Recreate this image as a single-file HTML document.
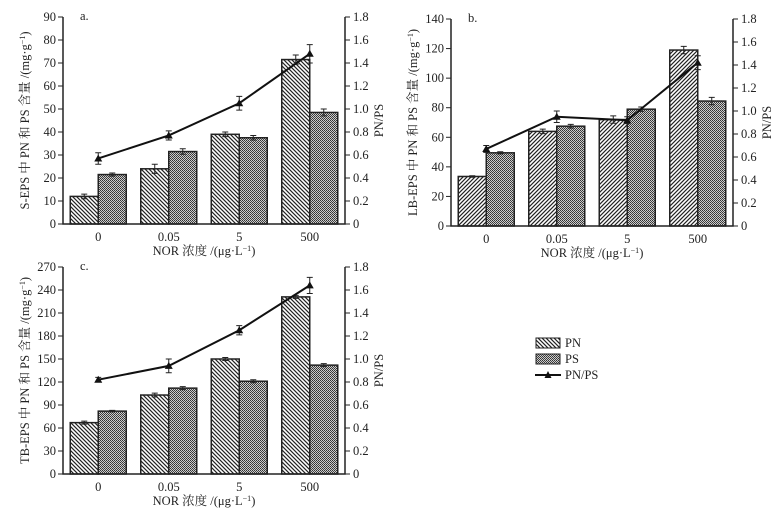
<!DOCTYPE html>
<html><head><meta charset="utf-8"><style>
body{margin:0;background:#fff}
svg text{font-family:"Liberation Serif","Noto Serif CJK SC",serif;font-size:12.5px;fill:#222}
</style></head><body>
<svg id="s" width="778" height="513" xmlns="http://www.w3.org/2000/svg">
<defs>
<pattern id="hb" width="4" height="4" patternUnits="userSpaceOnUse"><rect width="4" height="4" fill="#fff"/><path d="M-1,-1 L5,5 M-1,3 L1,5 M3,-1 L5,1" stroke="#222" stroke-width="1.2"/></pattern>
<pattern id="hf" width="4" height="4" patternUnits="userSpaceOnUse"><rect width="4" height="4" fill="#fff"/><path d="M-1,5 L5,-1 M-1,1 L1,-1 M3,5 L5,3" stroke="#222" stroke-width="1.2"/></pattern>
<pattern id="ck" width="2" height="2" patternUnits="userSpaceOnUse"><rect width="2" height="2" fill="#ccc"/><rect width="1" height="1" fill="#333"/><rect x="1" y="1" width="1" height="1" fill="#444"/></pattern>
</defs>
<g>
<rect x="536" y="338" width="24" height="10" fill="url(#hb)" stroke="#222"/>
<text x="565" y="347">PN</text>
<rect x="536" y="354" width="24" height="10" fill="url(#ck)" stroke="#222"/>
<text x="565" y="363">PS</text>
<line x1="535" y1="375" x2="561" y2="375" stroke="#111" stroke-width="2"/>
<path d="M544.5,378 L548,371 L551.5,378Z" fill="#111"/>
<text x="565" y="379">PN/PS</text>
</g>
</svg>
<script>
const categories=["0","0.05","5","500"];
const aPN=[12,24,39,71.5], aPNerr=[1,2,1,2];
const aPS=[21.5,31.5,37.5,48.5], aPSerr=[0.7,1.2,1,1.5];
const aRatio=[0.57,0.77,1.05,1.48], aRatioErr=[0.05,0.04,0.06,0.08];
const aTicks=[0,10,20,30,40,50,60,70,80,90];
const bPN=[33.5,64,72,119], bPNerr=[0.5,1.5,2.5,2.5];
const bPS=[49.5,67.5,79,84.5], bPSerr=[0.7,1.2,1.5,2.5];
const bRatio=[0.67,0.95,0.92,1.42], bRatioErr=[0.03,0.05,0.03,0.06];
const bTicks=[0,20,40,60,80,100,120,140];
const cPN=[67,103,150,231], cPNerr=[2,2.5,2,2];
const cPS=[82,112,121,142], cPSerr=[1,2,2,2];
const cRatio=[0.82,0.94,1.25,1.64], cRatioErr=[0.02,0.06,0.04,0.07];
const cTicks=[0,30,60,90,120,150,180,210,240,270];
const rTicks=[0,0.2,0.4,0.6,0.8,1.0,1.2,1.4,1.6,1.8];
const rLabels=["0","0.2","0.4","0.6","0.8","1.0","1.2","1.4","1.6","1.8"];
const NS="http://www.w3.org/2000/svg", svg=document.getElementById('s');
function mk(p,t,a,txt){const e=document.createElementNS(NS,t);for(const k in a)e.setAttribute(k,a[k]);if(txt!=null)e.textContent=txt;p.appendChild(e);return e;}
function chart(id,L,R,T,B,ticks,PN,PNe,PS,PSe,RA,RAe,label,ytitle,pnFill){
  const g=mk(svg,'g',{});
  
  
  const ymax=ticks[ticks.length-1];
  const y=v=>B-(v/ymax)*(B-T), yr=v=>B-(v/1.8)*(B-T);
  const step=(R-L)/categories.length, cx=i=>L+step/2+i*step, bw=28;
  function eb(x,v,e,yf,name){const l=mk(g,'path',{d:`M${x},${yf(v-e)}V${yf(v+e)}M${x-3},${yf(v-e)}H${x+3}M${x-3},${yf(v+e)}H${x+3}`,stroke:'#222','stroke-width':1,fill:'none'});
    
    }
  categories.forEach((c,i)=>{
    const b1=mk(g,'rect',{x:cx(i)-bw,y:y(PN[i]),width:bw,height:B-y(PN[i]),fill:pnFill,stroke:'#222','stroke-width':1.5});
    
    
    const b2=mk(g,'rect',{x:cx(i),y:y(PS[i]),width:bw,height:B-y(PS[i]),fill:'url(#ck)',stroke:'#222','stroke-width':1.5});
    
    
    eb(cx(i)-bw/2,PN[i],PNe[i],y,'error-bar-pn');
    eb(cx(i)+bw/2,PS[i],PSe[i],y,'error-bar-ps');
    const t=mk(g,'text',{x:cx(i),y:B+17,'text-anchor':'middle'},c);
    
    
  });
  const ln=mk(g,'polyline',{points:RA.map((v,i)=>cx(i)+','+yr(v)).join(' '),fill:'none',stroke:'#111','stroke-width':2});
  
  
  RA.forEach((v,i)=>{eb(cx(i),v,RAe[i],yr,'error-bar-ratio');
    const m=mk(g,'path',{d:`M${cx(i)-4},${yr(v)+3} L${cx(i)},${yr(v)-4} L${cx(i)+4},${yr(v)+3}Z`,fill:'#111'});
    
    });
  const ax=mk(g,'path',{d:`M${L},${T}V${B}H${R}V${T}`,fill:'none',stroke:'#222','stroke-width':1.5});
  
  
  ticks.forEach(v=>{mk(g,'line',{x1:L-5,x2:L,y1:y(v),y2:y(v),stroke:'#222'});
    const t=mk(g,'text',{x:L-7,y:y(v)+4,'text-anchor':'end'},String(v));
    
    });
  rTicks.forEach((v,k)=>{mk(g,'line',{x1:R,x2:R+5,y1:yr(v),y2:yr(v),stroke:'#222'});
    const t=mk(g,'text',{x:R+8,y:yr(v)+4},rLabels[k]);
    
    });
  const pl=mk(g,'text',{x:L+17,y:T+3},label);
  
  
  const xt=mk(g,'text',{x:(L+R)/2,y:B+31,'text-anchor':'middle'});
  xt.innerHTML='NOR 浓度 /(μg·L<tspan dy="-4" font-size="8">−1</tspan><tspan dy="4">)</tspan>';
  
  
  const yt=mk(g,'text',{transform:`translate(${L-34},${(T+B)/2}) rotate(-90)`,'text-anchor':'middle'});
  yt.innerHTML=ytitle+' 中 PN 和 PS 含量 /(mg·g<tspan dy="-4" font-size="8">−1</tspan><tspan dy="4">)</tspan>';
  
  
  const y2=mk(g,'text',{transform:`translate(${R+38},${(T+B)/2}) rotate(-90)`,'text-anchor':'middle'},'PN/PS');
  
  
}
chart('a',63,345,17,224,aTicks,aPN,aPNerr,aPS,aPSerr,aRatio,aRatioErr,'a.','S-EPS','url(#hb)');
chart('b',451,733,19,226,bTicks,bPN,bPNerr,bPS,bPSerr,bRatio,bRatioErr,'b.','LB-EPS','url(#hf)');
chart('c',63,345,267,474,cTicks,cPN,cPNerr,cPS,cPSerr,cRatio,cRatioErr,'c.','TB-EPS','url(#hb)');
</script>
</body></html>
